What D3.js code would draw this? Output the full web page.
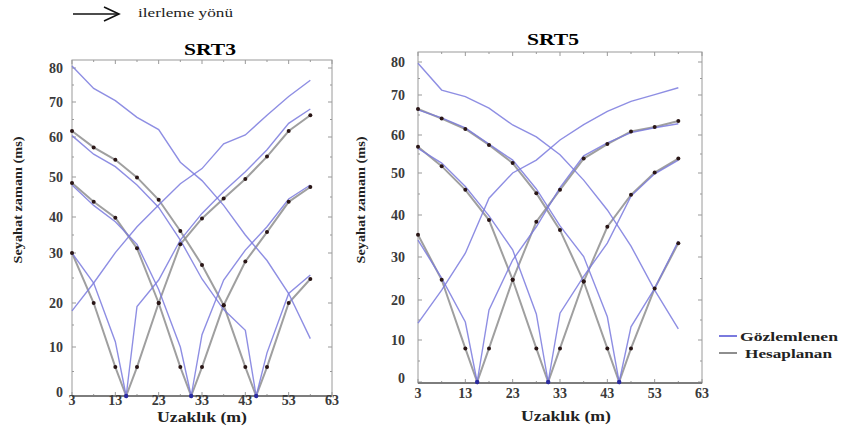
<!DOCTYPE html>
<html>
<head>
<meta charset="utf-8">
<script src="https://cdnjs.cloudflare.com/ajax/libs/d3/7.8.5/d3.min.js"></script>
<style>
  body { margin: 0; background: #fff; }
  svg { display: block; }
  text { font-family: "Liberation Serif", "Times New Roman", serif; }
</style>
</head>
<body>
<div id="chart"></div>
<script>
// receiver positions (m) and shot points (m)
var receivers = [3, 8, 13, 18, 23, 28, 33, 38, 43, 48, 53, 58];
var shots = [15.5, 30.5, 45.5];
var xTicks = [3, 13, 23, 33, 43, 53, 63];
var yTicks = [0, 10, 20, 30, 40, 50, 60, 70, 80];
var legendLabels = ["Gözlemlenen", "Hesaplanan"];

// SRT3 - calculated (Hesaplanan) travel times, ms
var srt3CalcS15 = [30.0, 20.0, 5.9, 5.9, 20.0, 32.4, 39.6, 44.6, 49.5, 55.1, 61.7, 66.2];
var srt3CalcS30 = [48.5, 43.8, 39.8, 31.3, 20.0, 5.9, 5.9, 19.5, 28.3, 35.8, 43.8, 47.5];
var srt3CalcS45 = [61.7, 57.4, 54.3, 49.9, 44.3, 36.1, 27.6, 19.5, 5.9, 5.9, 20.0, 24.8];
// SRT3 - observed (Gözlemlenen)
var srt3ObsOff0  = [18.2, 24.0, 30.1, 37.3, 43.0, 48.3, 52.1, 58.3, 60.6, 66.2, 71.6, 76.4];
var srt3ObsOff60 = [80.6, 74.0, 70.4, 65.6, 62.1, 53.7, 49.1, 42.9, 35.0, 28.5, 21.9, 11.9];
var srt3ObsS15 = [30.0, 24.0, 11.2, 19.2, 24.6, 33.6, 40.9, 46.4, 51.3, 56.8, 63.9, 68.0];
var srt3ObsS30 = [48.0, 42.9, 38.7, 32.4, 22.7, 10.0, 12.8, 24.6, 30.8, 37.3, 44.5, 48.0];
var srt3ObsS45 = [60.4, 55.7, 52.6, 48.0, 42.4, 33.6, 24.8, 18.5, 13.8, 8.8, 21.9, 25.6];

// SRT5 - calculated
var srt5CalcS15 = [35.3, 24.7, 8.0, 8.0, 24.7, 38.4, 46.0, 53.8, 57.6, 60.9, 62.0, 63.5];
var srt5CalcS30 = [56.9, 51.8, 46.0, 38.8, 24.7, 8.0, 8.0, 24.3, 37.2, 44.8, 50.1, 53.8];
var srt5CalcS45 = [66.5, 64.1, 61.5, 57.4, 52.6, 45.2, 36.4, 24.3, 8.0, 8.0, 22.7, 33.3];
// SRT5 - observed
var srt5ObsOff0  = [14.2, 22.3, 30.9, 44.0, 50.0, 53.4, 58.7, 62.6, 65.9, 68.4, 70.1, 72.2];
var srt5ObsOff60 = [79.6, 71.5, 69.6, 66.7, 62.5, 59.5, 54.8, 48.3, 41.2, 32.6, 22.3, 12.8];
var srt5ObsS15 = [34.0, 25.1, 14.5, 17.5, 29.3, 37.2, 46.5, 54.5, 57.9, 60.6, 61.8, 62.8];
var srt5ObsS30 = [56.5, 52.6, 46.8, 39.8, 31.7, 16.5, 16.7, 25.5, 33.3, 44.5, 49.8, 53.4];
var srt5ObsS45 = [66.3, 64.3, 61.8, 57.6, 53.4, 46.2, 37.4, 30.1, 15.8, 13.3, 22.7, 33.8];

var W = 842, H = 440;
var BLUE = "#7a7ade", GRAY = "#8e8e8e", DOT = "#2a1616";

var svg = d3.select("#chart").append("svg")
  .attr("width", W)
  .attr("height", H);

// travel-time curve: receivers + zero at the shot point
function curve(values, shot) {
  var pts = receivers.map(function (r, i) { return [r, values[i]]; });
  if (shot != null) {
    pts.push([shot, 0]);
    pts.sort(function (a, b) { return a[0] - b[0]; });
  }
  return pts;
}

function drawPanel(p) {
  var x = d3.scaleLinear().domain([3, 63]).range([p.left, p.right]);
  // the printed time axis is not evenly spaced, so a piecewise scale follows its labels
  var y = d3.scaleLinear().domain(yTicks).range(p.yStops);
  var g = svg.append("g");

  // frame
  g.append("rect")
    .attr("x", p.left).attr("y", p.top)
    .attr("width", p.right - p.left).attr("height", p.bottom - p.top)
    .attr("fill", "none").attr("stroke", "#9a9a9a").attr("stroke-width", 1);

  // small inward ticks on all four sides
  var xt = d3.range(3, 64, 5), yt = d3.range(0, 81, 5);
  g.selectAll(".xtb").data(xt).enter().append("line")
    .attr("x1", x).attr("x2", x)
    .attr("y1", p.bottom).attr("y2", function (d) { return p.bottom - ((d - 3) % 10 ? 2 : 4); })
    .attr("stroke", "#999");
  g.selectAll(".xtt").data(xt).enter().append("line")
    .attr("x1", x).attr("x2", x)
    .attr("y1", p.top).attr("y2", function (d) { return p.top + ((d - 3) % 10 ? 2 : 4); })
    .attr("stroke", "#999");
  g.selectAll(".ytl").data(yt).enter().append("line")
    .attr("y1", y).attr("y2", y)
    .attr("x1", p.left).attr("x2", function (d) { return p.left + (d % 10 ? 2 : 4); })
    .attr("stroke", "#999");
  g.selectAll(".ytr").data(yt).enter().append("line")
    .attr("y1", y).attr("y2", y)
    .attr("x1", p.right).attr("x2", function (d) { return p.right - (d % 10 ? 2 : 4); })
    .attr("stroke", "#999");

  // heavier bottom axis line
  g.append("line")
    .attr("x1", p.left).attr("x2", p.right)
    .attr("y1", p.bottom).attr("y2", p.bottom)
    .attr("stroke", "#7d7d7d").attr("stroke-width", 2);

  // tick labels
  g.selectAll(".xl").data(xTicks).enter().append("text")
    .attr("x", x).attr("y", p.bottom + p.xLabelDy)
    .attr("text-anchor", "middle")
    .attr("font-size", 14).attr("font-weight", "bold").attr("fill", "#3a3a3a")
    .text(function (d) { return d; });
  g.selectAll(".yl").data(yTicks).enter().append("text")
    .attr("x", p.left - p.yLabelDx).attr("y", function (d) { return y(d) + (d ? 5 : 1); })
    .attr("text-anchor", "end")
    .attr("font-size", 14).attr("font-weight", "bold").attr("fill", "#3a3a3a")
    .text(function (d) { return d; });

  // titles
  g.append("text")
    .attr("x", (p.left + p.right) / 2 + p.titleDx).attr("y", p.titleY)
    .attr("text-anchor", "middle")
    .attr("font-size", 17).attr("font-weight", "bold")
    .attr("textLength", 52).attr("lengthAdjust", "spacingAndGlyphs")
    .text(p.title);
  g.append("text")
    .attr("x", (p.left + p.right) / 2 + p.xTitleDx).attr("y", p.xTitleY)
    .attr("text-anchor", "middle")
    .attr("font-size", 15).attr("font-weight", "bold").attr("fill", "#222")
    .attr("textLength", 90).attr("lengthAdjust", "spacingAndGlyphs")
    .text("Uzaklık (m)");
  g.append("text")
    .attr("transform", "translate(" + p.yTitleX + "," + p.yTitleY + ") rotate(-90)")
    .attr("text-anchor", "middle")
    .attr("font-size", 13).attr("font-weight", "bold").attr("fill", "#222")
    .attr("textLength", 127).attr("lengthAdjust", "spacingAndGlyphs")
    .text("Seyahat zamanı (ms)");

  var line = d3.line().x(function (d) { return x(d[0]); }).y(function (d) { return y(d[1]); });

  // calculated curves (gray)
  p.calc.forEach(function (vals, i) {
    g.append("path")
      .attr("d", line(curve(vals, shots[i])))
      .attr("fill", "none").attr("stroke", GRAY)
      .attr("stroke-width", 2).attr("stroke-opacity", 0.85);
  });
  // observed curves (blue)
  p.obs.forEach(function (o) {
    g.append("path")
      .attr("d", line(curve(o.vals, o.shot)))
      .attr("fill", "none").attr("stroke", BLUE)
      .attr("stroke-width", 1.4).attr("stroke-opacity", 0.85);
  });
  // receiver dots on the calculated curves, shot points at zero
  p.calc.forEach(function (vals, i) {
    g.selectAll(null).data(curve(vals, null)).enter().append("circle")
      .attr("cx", function (d) { return x(d[0]); })
      .attr("cy", function (d) { return y(d[1]); })
      .attr("r", 2).attr("fill", DOT);
    g.append("circle")
      .attr("cx", x(shots[i])).attr("cy", y(0))
      .attr("r", 2.2).attr("fill", "#2a2aa0");
  });
}

drawPanel({
  title: "SRT3", left: 72, right: 332, top: 60, bottom: 396,
  yStops: [396, 347, 303, 253, 217, 177, 137, 102, 68],
  xLabelDy: 9, yLabelDx: 9, titleDx: 8, titleY: 55,
  xTitleDx: 0, xTitleY: 422, yTitleX: 22, yTitleY: 200,
  calc: [srt3CalcS15, srt3CalcS30, srt3CalcS45],
  obs: [
    { vals: srt3ObsOff0, shot: null }, { vals: srt3ObsOff60, shot: null },
    { vals: srt3ObsS15, shot: shots[0] }, { vals: srt3ObsS30, shot: shots[1] },
    { vals: srt3ObsS45, shot: shots[2] }
  ]
});

drawPanel({
  title: "SRT5", left: 418, right: 702, top: 52, bottom: 383,
  yStops: [382, 340, 300, 257, 215, 173, 135, 95, 62],
  xLabelDy: 15, yLabelDx: 13, titleDx: -7, titleY: 45,
  xTitleDx: 6, xTitleY: 421, yTitleX: 365, yTitleY: 200,
  calc: [srt5CalcS15, srt5CalcS30, srt5CalcS45],
  obs: [
    { vals: srt5ObsOff0, shot: null }, { vals: srt5ObsOff60, shot: null },
    { vals: srt5ObsS15, shot: shots[0] }, { vals: srt5ObsS30, shot: shots[1] },
    { vals: srt5ObsS45, shot: shots[2] }
  ]
});

// direction arrow at the top
var arrow = svg.append("g").attr("stroke", "#111").attr("stroke-width", 1.6).attr("fill", "none");
arrow.append("line").attr("x1", 73).attr("x2", 119).attr("y1", 14).attr("y2", 14);
arrow.append("path").attr("d", "M104,7 L119,14 L104,21");
svg.append("text")
  .attr("x", 138).attr("y", 17)
  .attr("font-size", 13).attr("fill", "#222")
  .attr("textLength", 95).attr("lengthAdjust", "spacingAndGlyphs")
  .text("ilerleme yönü");

// legend
var legend = svg.append("g");
[BLUE, GRAY].forEach(function (c, i) {
  legend.append("line")
    .attr("x1", 719).attr("x2", 737)
    .attr("y1", 336 + i * 17).attr("y2", 336 + i * 17)
    .attr("stroke", c).attr("stroke-width", 2);
  legend.append("text")
    .attr("x", i ? 745 : 740).attr("y", 341 + i * 17)
    .attr("font-size", 13).attr("font-weight", "bold").attr("fill", "#222")
    .attr("textLength", i ? 87 : 98).attr("lengthAdjust", "spacingAndGlyphs")
    .text(legendLabels[i]);
});
</script>
</body>
</html>
